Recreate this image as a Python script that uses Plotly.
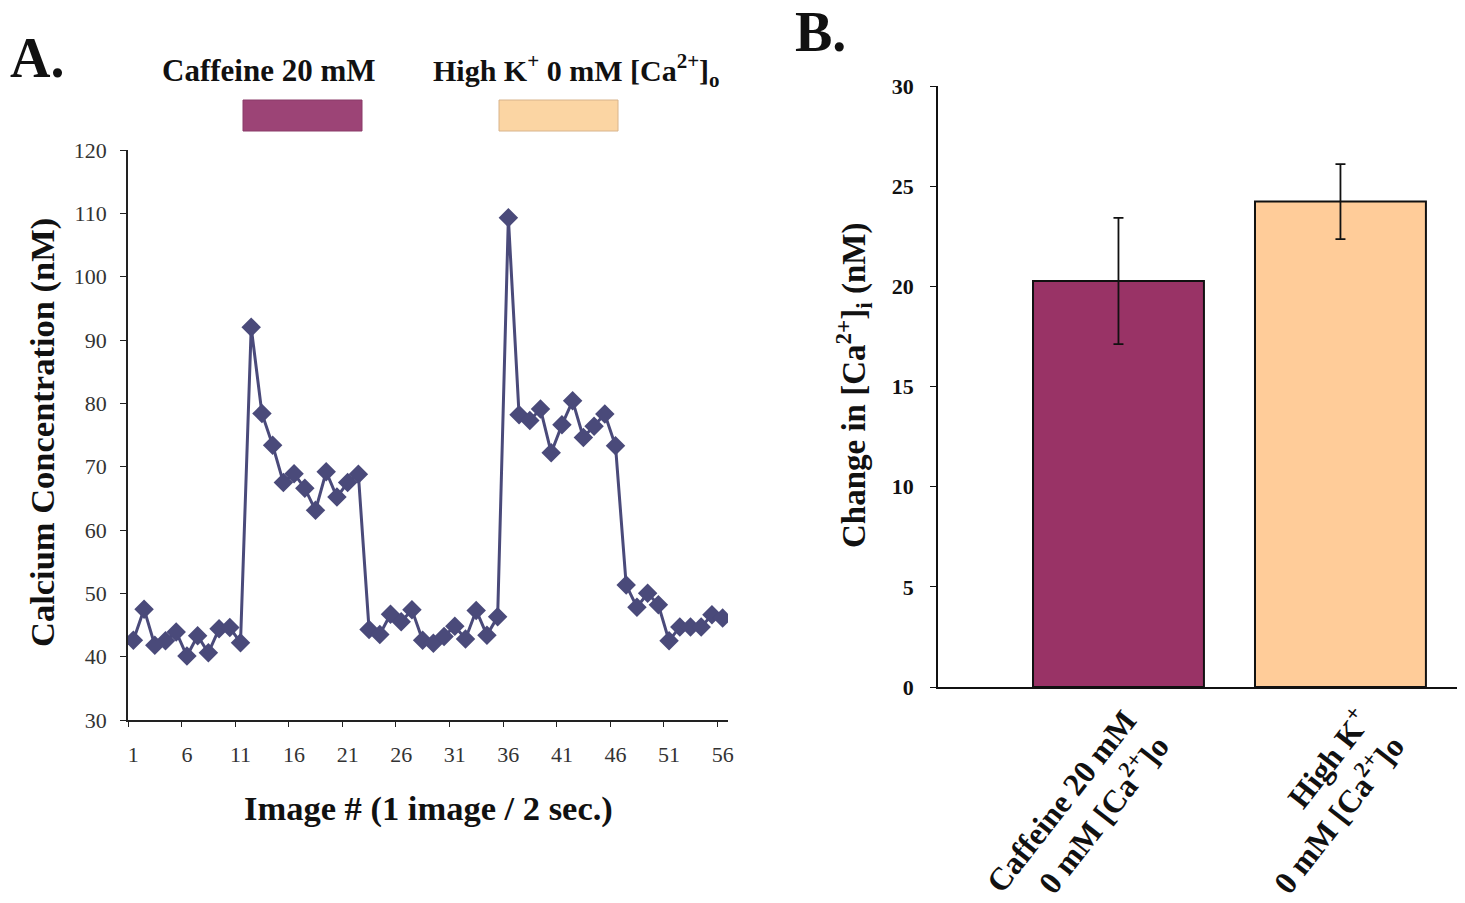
import plotly.graph_objects as go

# ---------------- Data ----------------
image_numbers = list(range(1, 57))
calcium_nM = [42.6, 47.5, 41.8, 42.5, 43.9, 40.1, 43.3, 40.6, 44.4, 44.6,
              42.2, 92.0, 78.4, 73.4, 67.5, 68.9, 66.6, 63.1, 69.2, 65.2,
              67.5, 68.8, 44.3, 43.5, 46.7, 45.5, 47.4, 42.6, 42.1, 43.2,
              44.8, 42.8, 47.3, 43.4, 46.3, 109.3, 78.2, 77.3, 79.1, 72.2,
              76.6, 80.4, 74.6, 76.4, 78.3, 73.3, 51.3, 47.8, 50.0, 48.2,
              42.5, 44.7, 44.7, 44.7, 46.6, 46.1]
x_tick_values = [1, 6, 11, 16, 21, 26, 31, 36, 41, 46, 51, 56]

bar_positions = [1, 2]
bar_labels = ["Caffeine 20 mM<br>0 mM [Ca<sup>2+</sup>]o",
              "High K<sup>+</sup><br>0 mM [Ca<sup>2+</sup>]o"]
bar_values = [20.27, 24.23]
bar_errors = [3.15, 1.87]
bar_colors = ["#993366", "#FFCC99"]

# page body has an 8px margin; size the figure so the page fits the window
PAGE_W, PAGE_H = 1465, 903
OFF = 8
W, H = PAGE_W - 2 * OFF, PAGE_H - 2 * OFF
SERIF = "Liberation Serif, Times New Roman, serif"
LINE_COLOR = "#4a4a7a"


def px_x(v):
    return min(max((v - OFF) / W, 0.0), 1.0)


def px_y(v):
    return 1 - (v - OFF) / H


# rotated category labels sit slightly right of the bar centres, as in the original
label_shift = [0.03, 0.09]
label_positions = [p + s for p, s in zip(bar_positions, label_shift)]

fig = go.Figure()

# Panel A: time course
fig.add_trace(go.Scatter(
    x=image_numbers, y=calcium_nM, mode="lines+markers",
    line=dict(color=LINE_COLOR, width=3),
    marker=dict(symbol="diamond", size=15, color=LINE_COLOR),
    xaxis="x", yaxis="y", showlegend=False, hoverinfo="x+y"))

# Panel B: bars
fig.add_trace(go.Bar(
    x=bar_positions, y=bar_values, width=0.77,
    marker=dict(color=bar_colors, line=dict(color="#111111", width=2)),
    error_y=dict(type="data", array=bar_errors, visible=True,
                 color="#111111", thickness=1.8, width=5),
    xaxis="x2", yaxis="y2", showlegend=False))

tickfont_a = dict(family=SERIF, size=22, color="#333333")
tickfont_b = dict(family=SERIF, size=22, color="#111111", weight="bold")

fig.update_layout(
    width=W, height=H, autosize=False,
    margin=dict(l=0, r=0, t=0, b=0, pad=0),
    paper_bgcolor="white", plot_bgcolor="white",
    font=dict(family=SERIF, color="#111111"),
    xaxis=dict(
        domain=[px_x(128), px_x(728)], anchor="y", automargin=False,
        range=[0.5, 56.5], tickmode="array", tickvals=x_tick_values,
        ticks="", showgrid=False, zeroline=False,
        showline=True, linecolor="#222222", linewidth=1.6,
        tickfont=tickfont_a, ticklabelstandoff=14,
        minor=dict(tickmode="linear", tick0=0.5, dtick=5, ticks="outside",
                   ticklen=5, tickcolor="#222222", tickwidth=1.2, showgrid=False)),
    yaxis=dict(
        domain=[px_y(720), px_y(150)], anchor="x", automargin=False,
        range=[30, 120], dtick=10, tick0=30,
        ticks="outside", ticklen=6, tickcolor="#222222", tickwidth=1.2,
        showgrid=False, zeroline=False,
        showline=True, linecolor="#222222", linewidth=1.6,
        tickfont=tickfont_a, ticklabelstandoff=9),
    xaxis2=dict(
        domain=[px_x(938), px_x(1460)], anchor="y2", automargin=False,
        range=[0.187, 2.525], tickmode="array", tickvals=label_positions,
        ticktext=bar_labels, tickangle=-52,
        ticks="", showgrid=False, zeroline=False,
        showline=True, linecolor="#111111", linewidth=1.8,
        tickfont=dict(family=SERIF, size=32, color="#111111", weight="bold")),
    yaxis2=dict(
        domain=[px_y(687), px_y(86)], anchor="x2", automargin=False,
        range=[0, 30], dtick=5,
        ticks="outside", ticklen=6, tickcolor="#111111", tickwidth=1.2,
        showgrid=False, zeroline=False,
        showline=True, linecolor="#111111", linewidth=1.6,
        tickfont=tickfont_b, ticklabelstandoff=12),
)

title_font = dict(family=SERIF, size=34.5, color="#111111")
annotations = [
    dict(text="<b>A.</b>", x=px_x(8), y=px_y(58), xanchor="left", yanchor="middle",
         font=dict(family=SERIF, size=56, color="#111111")),
    dict(text="<b>B.</b>", x=px_x(793), y=px_y(32), xanchor="left", yanchor="middle",
         font=dict(family=SERIF, size=56, color="#111111")),
    dict(text="<b>Caffeine 20 mM</b>", x=px_x(269), y=px_y(70),
         xanchor="center", yanchor="middle",
         font=dict(family=SERIF, size=31, color="#111111")),
    dict(text="<b>High K<sup>+</sup> 0 mM [Ca<sup>2+</sup>]<sub>o</sub></b>",
         x=px_x(576), y=px_y(70), xanchor="center", yanchor="middle",
         font=dict(family=SERIF, size=30, color="#111111")),
    dict(text="<b>Calcium Concentration (nM)</b>", x=px_x(42), y=px_y(433),
         xanchor="center", yanchor="middle", textangle=-90, font=title_font),
    dict(text="<b>Image # (1 image / 2 sec.)</b>", x=px_x(428), y=px_y(808),
         xanchor="center", yanchor="middle", font=title_font),
    dict(text="<b>Change in [Ca<sup>2+</sup>]<sub>i</sub> (nM)</b>",
         x=px_x(853), y=px_y(386), xanchor="center", yanchor="middle",
         textangle=-90, font=dict(family=SERIF, size=33, color="#111111")),
]
for a in annotations:
    a.update(xref="paper", yref="paper", showarrow=False)
fig.update_layout(annotations=annotations)

# Legend swatches for treatment periods
fig.update_layout(shapes=[
    dict(type="rect", xref="paper", yref="paper",
         x0=px_x(243), x1=px_x(362), y0=px_y(131), y1=px_y(100),
         fillcolor="#9c4476", line=dict(color="#8a3a68", width=1)),
    dict(type="rect", xref="paper", yref="paper",
         x0=px_x(499), x1=px_x(618), y0=px_y(131), y1=px_y(100),
         fillcolor="#fbd5a3", line=dict(color="#d8b48c", width=1)),
])

fig.write_html("out.html")
